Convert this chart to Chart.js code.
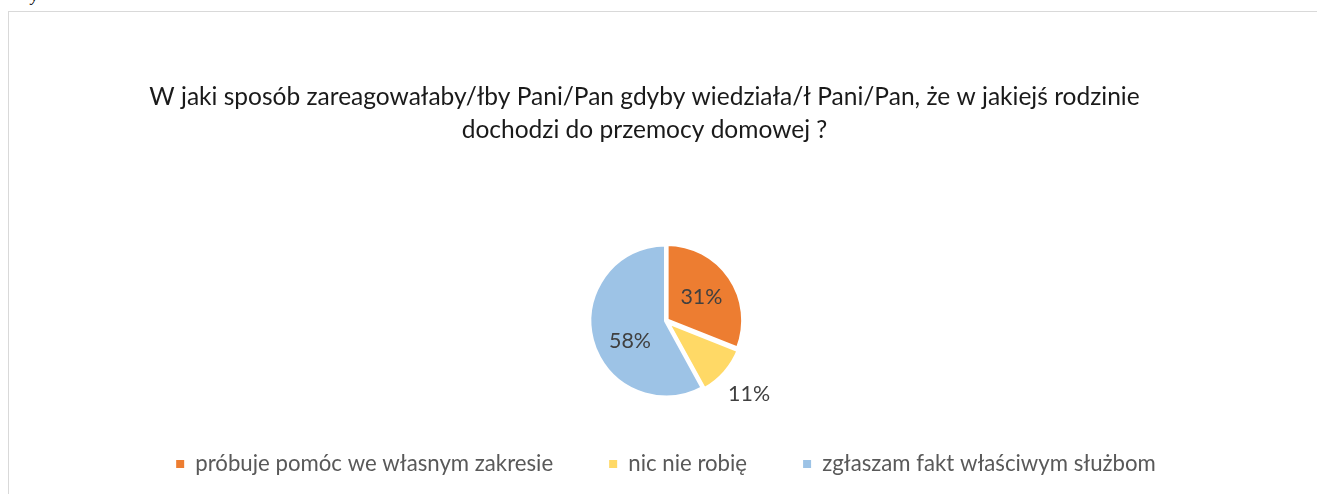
<!DOCTYPE html>
<html>
<head>
<meta charset="utf-8">
<script src="https://cdn.jsdelivr.net/npm/chart.js@4.4.1/dist/chart.umd.min.js"></script>
<style>
  html, body { margin: 0; padding: 0; width: 1317px; height: 494px; overflow: hidden; background: #fff; }
  #frame { position: absolute; left: 8px; top: 11px; width: 1400px; height: 600px; border: 1px solid #d9d9d9; }
  #stray { position: absolute; left: 31px; top: -12px; font: italic 16px/16px "Liberation Serif", serif; color: #000; }
  #wrap { position: absolute; left: 0; top: 0; width: 1317px; height: 494px; }
</style>
</head>
<body>
<div id="stray">y</div>
<div id="frame"></div>
<div id="wrap"><canvas id="chart"></canvas></div>
<script>
const titleLines = [
  'W jaki sposób zareagowałaby/łby Pani/Pan gdyby wiedziała/ł Pani/Pan, że w jakiejś rodzinie',
  'dochodzi do przemocy domowej ?'
];
const categories = ['próbuje pomóc we własnym zakresie', 'nic nie robię', 'zgłaszam fakt właściwym służbom'];
const shares = [31, 11, 58];
const sliceColors = ['#ED7D31', '#FFD966', '#9DC3E6'];

// % label placement: fraction of radius out from the centre, and a small turn in degrees
const labelRadius = [0.52, 1.37, 0.54];
const labelTurn = [0, 0, -15];
const sliceOffset = [3, 6, 0];

var FAMILY = 'Lato, "Open Sans", sans-serif';

// the reference uses Calibri, so scale our font to hit the same text widths
function fitSize(text, target) {
    var c = document.createElement('canvas').getContext('2d');
    c.font = '100px ' + FAMILY;
    return target / c.measureText(text).width * 100;
}
var titleSize = fitSize(titleLines[0], 991);
var legendSize = fitSize(categories[0], 358);
var labelSize = fitSize('31%', 42);

var titlePlugin = {
    id: 'twoLineTitle',
    afterDraw: function(chart) {
        var ctx = chart.ctx;
        ctx.save();
        ctx.font = titleSize + 'px ' + FAMILY;
        ctx.fillStyle = '#1a1a1a';
        ctx.textAlign = 'center';
        ctx.textBaseline = 'alphabetic';
        var cx = chart.width / 2 - 14;
        ctx.fillText(titleLines[0], cx, 105);
        ctx.fillText(titleLines[1], cx, 138);
        ctx.restore();
    }
};

var pctPlugin = {
    id: 'pctLabels',
    afterDatasetsDraw: function(chart) {
        var ctx = chart.ctx;
        var meta = chart.getDatasetMeta(0);
        ctx.save();
        ctx.font = labelSize + 'px ' + FAMILY;
        ctx.fillStyle = '#404040';
        ctx.textAlign = 'center';
        ctx.textBaseline = 'middle';
        meta.data.forEach(function(arc, i) {
            var p = arc.getProps(['x', 'y', 'startAngle', 'endAngle', 'outerRadius'], true);
            var mid = (p.startAngle + p.endAngle) / 2 + labelTurn[i] * Math.PI / 180;
            var d = p.outerRadius * labelRadius[i] + sliceOffset[i];
            ctx.fillText(shares[i] + '%', p.x + Math.cos(mid) * d, p.y + Math.sin(mid) * d);
        });
        ctx.restore();
    }
};

var ctx = document.getElementById('chart');
var chart = new Chart(ctx, {
    type: 'pie',
    data: {
        labels: categories,
        datasets: [{
            data: shares,
            backgroundColor: sliceColors,
            borderColor: '#ffffff',
            borderWidth: 4,
            offset: sliceOffset
        }]
    },
    options: {
        responsive: true,
        maintainAspectRatio: false,
        animation: false,
        radius: 76.5,
        layout: { padding: { top: 245, left: 15, right: 0, bottom: 9 } },
        plugins: {
            title: { display: false },
            tooltip: { enabled: false },
            legend: {
                position: 'bottom',
                labels: {
                    boxWidth: 8,
                    boxHeight: 8,
                    padding: 56,
                    color: '#595959',
                    font: { family: FAMILY, size: legendSize },
                    generateLabels: function(chart) {
                        var items = Chart.overrides.pie.plugins.legend.labels.generateLabels(chart);
                        items.forEach(function(it) { it.lineWidth = 0; });
                        return items;
                    }
                }
            }
        }
    },
    plugins: [titlePlugin, pctPlugin]
});
</script>
</body>
</html>
